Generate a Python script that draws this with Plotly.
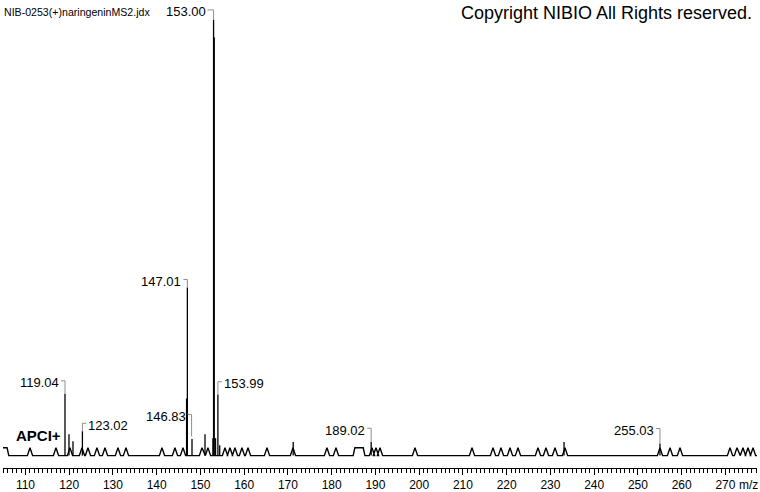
import plotly.graph_objects as go

# ---------------- data ----------------
# stick peaks (m/z, relative intensity %)
peak_mz = [119.04, 119.95, 120.87, 123.02, 146.83, 147.01, 148.07, 151.04,
           152.85, 153.00, 153.15, 153.45, 153.99, 154.40, 171.20, 189.02,
           233.10, 255.03]
peak_int = [14.2, 4.9, 3.3, 5.6, 13.1, 38.6, 3.8, 4.9,
            4.0, 100.0, 96.0, 4.0, 14.0, 2.4, 3.1, 3.1,
            3.1, 2.8]

# small profile bumps along the baseline (m/z, relative intensity %)
noise_mz = [111.04, 116.98, 120.18, 122.92, 124.29, 126.35, 128.18, 131.15,
            132.98, 141.21, 144.18, 146.01, 150.35, 151.72, 155.61, 156.75,
            157.89, 159.49, 160.87, 165.21, 171.15, 178.92, 180.98, 189.21,
            190.12, 191.04, 199.04, 212.07, 216.87, 218.69, 220.75, 222.58,
            227.15, 228.98, 231.04, 233.33, 255.03, 257.33, 259.61, 271.04,
            272.63, 274.00, 275.15, 276.30]
noise_int = [1.8] * len(noise_mz)

# flat-topped profile segments (start m/z, end m/z, intensity %)
plateau_start = [104.00, 184.90]
plateau_end = [106.20, 187.60]
plateau_int = [1.8, 1.8]

# labelled peaks
label_mz = [119.04, 123.02, 146.83, 147.01, 153.00, 153.99, 189.02, 255.03]
label_int = [14.2, 5.6, 13.1, 38.6, 100.0, 14.0, 3.1, 2.8]

tick_vals = list(range(110, 280, 10))
tick_text = [str(v) for v in tick_vals]

title_text = "NIB-0253(+)naringeninMS2.jdx"
copyright_text = "Copyright NIBIO All Rights reserved."
mode_text = "APCI+"
unit_text = "m/z"

# ---------------- layout constants ----------------
W, H = 760, 492
ML, MR, MT, MB = 3, 3, 0, 20
X_MIN, X_MAX = 104.87, 277.21
Y_MIN, Y_MAX = -2.844, 104.55
PLOT_W = W - ML - MR
PLOT_H = H - MT - MB
PX_X = (X_MAX - X_MIN) / PLOT_W   # m/z per pixel
PX_Y = (Y_MAX - Y_MIN) / PLOT_H   # intensity per pixel
BUMP_HALF = 0.6
RAMP = 0.4

# label styling: side of text, gap above peak (px), connector x offset (px), fixed length (px)
label_style = {
    119.04: dict(side="left", gap=13, dx=0, length=None, dash=4),
    123.02: dict(side="right", gap=8, dx=0, length=None, dash=4),
    146.83: dict(side="left", gap=-16, dx=5, length=22, dash=4),
    147.01: dict(side="left", gap=8, dx=0, length=None, dash=4),
    153.00: dict(side="left", gap=10, dx=0, length=None, dash=6),
    153.99: dict(side="right", gap=13, dx=0, length=None, dash=4),
    189.02: dict(side="left", gap=14, dx=0, length=None, dash=4),
    255.03: dict(side="left", gap=15, dx=0, length=None, dash=4),
}

FONT = "Arial, Liberation Sans, sans-serif"
GRAY = "#8e8e8e"

# ---------------- profile baseline ----------------
features = []
for c, h in zip(noise_mz, noise_int):
    features.append((c - BUMP_HALF, [c - BUMP_HALF, c, c + BUMP_HALF], [0, h, 0]))
for a, b, h in zip(plateau_start, plateau_end, plateau_int):
    features.append((a, [a, a + RAMP, b - RAMP, b], [0, h, h, 0]))
features.sort(key=lambda f: f[0])

prof_x = [X_MIN - 2]
prof_y = [0]
for _, fx, fy in features:
    prof_x += fx
    prof_y += fy
prof_x.append(X_MAX + 0.0)
prof_y.append(0)

# ---------------- sticks ----------------
stick_x, stick_y = [], []
for m, v in zip(peak_mz, peak_int):
    stick_x += [m, m, None]
    stick_y += [0, v, None]

fig = go.Figure()
fig.add_trace(go.Scatter(x=prof_x, y=prof_y, mode="lines",
                         line=dict(color="black", width=1.4), hoverinfo="skip"))
fig.add_trace(go.Scatter(x=stick_x, y=stick_y, mode="lines",
                         line=dict(color="black", width=1.3), hoverinfo="skip"))

shapes = []
annotations = []
for m, v in zip(label_mz, label_int):
    st = label_style[m]
    cx = m + st["dx"] * PX_X
    cy = v + st["gap"] * PX_Y
    if st["length"] is None:
        y_end = v
    else:
        y_end = cy - st["length"] * PX_Y
    shapes.append(dict(type="line", xref="x", yref="y", x0=cx, x1=cx, y0=cy, y1=y_end,
                       line=dict(color=GRAY, width=1)))
    if st["side"] == "left":
        hx0 = cx - st["dash"] * PX_X
        shapes.append(dict(type="line", xref="x", yref="y", x0=hx0, x1=cx, y0=cy, y1=cy,
                           line=dict(color=GRAY, width=1)))
        annotations.append(dict(x=hx0, y=cy, xref="x", yref="y", text=f"{m:.2f}",
                                showarrow=False, xanchor="right", yanchor="middle",
                                xshift=0, yshift=-2,
                                font=dict(family=FONT, size=13, color="black")))
    else:
        hx1 = cx + st["dash"] * PX_X
        shapes.append(dict(type="line", xref="x", yref="y", x0=cx, x1=hx1, y0=cy, y1=cy,
                           line=dict(color=GRAY, width=1)))
        annotations.append(dict(x=hx1, y=cy, xref="x", yref="y", text=f"{m:.2f}",
                                showarrow=False, xanchor="left", yanchor="middle",
                                xshift=0, yshift=-2,
                                font=dict(family=FONT, size=13, color="black")))

annotations.append(dict(x=2, y=H - 12, xref="paper", yref="paper", text=title_text,
                        showarrow=False, xanchor="left", yanchor="middle",
                        font=dict(family=FONT, size=10.6, color="black")))
annotations.append(dict(x=754, y=H - 13, xref="paper", yref="paper", text=copyright_text,
                        showarrow=False, xanchor="right", yanchor="middle",
                        font=dict(family=FONT, size=18, color="black")))
annotations.append(dict(x=14, y=H - 439, xref="paper", yref="paper", text=f"<b>{mode_text}</b>",
                        showarrow=False, xanchor="left", yanchor="middle",
                        font=dict(family=FONT, size=15, color="black")))
annotations.append(dict(x=tick_vals[-1], y=0, xref="x", yref="paper", text=unit_text,
                        showarrow=False, xanchor="left", yanchor="top", xshift=12, yshift=-8,
                        font=dict(family=FONT, size=12, color="black")))

# convert paper-pixel annotations to paper fractions
for a in annotations:
    if a.get("xref") == "paper" and a["x"] > 1:
        a["x"] = (a["x"] - ML) / PLOT_W
    if a.get("yref") == "paper" and a["y"] > 1:
        a["y"] = (a["y"] - MB) / PLOT_H

fig.update_layout(
    width=W, height=H,
    margin=dict(l=ML, r=MR, t=MT, b=MB, pad=0),
    paper_bgcolor="white", plot_bgcolor="white",
    showlegend=False,
    shapes=shapes, annotations=annotations,
    xaxis=dict(range=[X_MIN, X_MAX], showgrid=False, zeroline=False,
               showline=True, linecolor="black", linewidth=1,
               ticks="outside", ticklen=6, tickwidth=1, tickcolor="black",
               tickvals=tick_vals, ticktext=tick_text,
               tickfont=dict(family=FONT, size=12, color="black"),
               minor=dict(dtick=1, tick0=0, ticks="outside", ticklen=4,
                          tickwidth=1, tickcolor="black", showgrid=False),
               fixedrange=True),
    yaxis=dict(range=[Y_MIN, Y_MAX], visible=False, fixedrange=True),
)
fig.write_html(
    "out.html",
    config={"displayModeBar": False, "staticPlot": True},
    post_script="document.body.style.margin='0';document.body.style.padding='0';"
                "document.body.style.overflow='hidden';",
)
